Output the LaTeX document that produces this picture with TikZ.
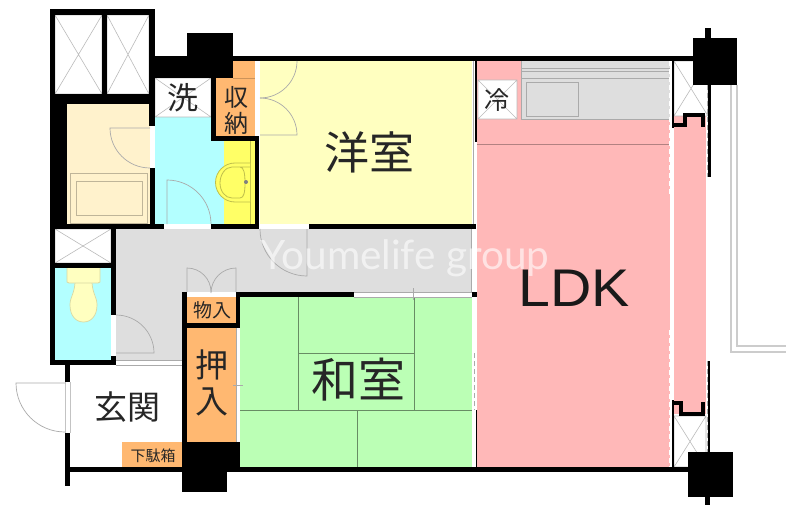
\documentclass[tikz,border=0pt]{standalone}
\usepackage{fontspec}
\setmainfont{Liberation Sans}
\newfontfamily\cjk{Noto Sans CJK JP}
\newfontfamily\wm{Lato}
\definecolor{wallk}{HTML}{000000}
\definecolor{cyanroom}{HTML}{B3FFFF}
\definecolor{yelroom}{HTML}{FFFFC0}
\definecolor{yelwash}{HTML}{FFFF66}
\definecolor{orangeroom}{HTML}{FFB871}
\definecolor{beigeroom}{HTML}{FFF2CC}
\definecolor{greyroom}{HTML}{DEDEDE}
\definecolor{greenroom}{HTML}{BBFFB5}
\definecolor{pinkroom}{HTML}{FFB8B8}
\definecolor{thin}{HTML}{AAAAAA}
\tikzset{
  thinline/.style={draw=thin,line width=0.7pt},
  crossline/.style={draw=thin!80,line width=0.6pt},
  tatami/.style={draw=black!45!greenroom,line width=0.8pt},
  jtext/.style={inner sep=0pt,text=black!85},
  crank/.style={draw=black,line width=3.5pt,line join=miter},
  whitedash/.style={draw=white,line width=1.2pt,dash pattern=on 5pt off 3pt},
  greydash/.style={draw=thin,line width=0.8pt,dash pattern=on 5pt off 3pt},
  balc/.style={draw=black!20,line width=1.6pt},
  fixture/.style={draw=black!25!yelwash,line width=0.8pt,fill=yelwash},
  pot/.style={draw=black!15!yelroom,line width=0.7pt,fill=yelroom},
}
\newcommand{\xbox}[4]{\fill[white] (#1,#2) rectangle (#3,#4);
  \draw[crossline] (#1,#2) rectangle (#3,#4) (#1,#2) -- (#3,#4) (#1,#4) -- (#3,#2);}
\begin{document}
\begin{tikzpicture}[x=1pt,y=-1pt]
\useasboundingbox (0,0) rectangle (786,505);
\fill[white] (0,0) rectangle (786,505);
% balcony
\draw[balc] (731,85) -- (731,352) -- (786,352);
\draw[balc] (737,85) -- (737,346) -- (786,346);
% rooms
\fill[beigeroom] (67,104) rectangle (150,224);
\fill[cyanroom] (155,117) rectangle (224,224);
\fill[yelwash] (224,141) rectangle (255,224);
\fill[orangeroom] (216,78) rectangle (255,136);
\fill[orangeroom] (233,61) rectangle (255,78);
\draw[draw=black!20!orangeroom,line width=0.6pt] (233,78) -- (255,78);
\fill[yelroom] (260,61) rectangle (472,224);
\fill[pinkroom] (477,61) rectangle (670,467);
\fill[pinkroom] (674,115) rectangle (706,414);
\fill[greyroom] (116,229) rectangle (472,292);
\fill[greyroom] (116,292) rectangle (182,360);
\fill[cyanroom] (55,268) rectangle (111,360);
\fill[orangeroom] (187,297) rectangle (236,323);
\fill[orangeroom] (187,328) rectangle (236,442);
\fill[orangeroom] (122,442) rectangle (182,467);
\fill[greenroom] (240,297) rectangle (472,467);
% tatami
\draw[tatami] (298,297) -- (298,410) (414,297) -- (414,410) (298,353) -- (414,353) (240,410) -- (472,410) (357,410) -- (357,467);
% thin edges
\draw[thinline] (473,61) -- (473,224) (471.5,229) -- (471.5,292) (116,360) -- (182,360) (116,365) -- (182,365) (354,292) -- (472,292) (354,297) -- (472,297);
\draw[thinline] (413,288) -- (413,300) (233,385) -- (243,385) (236.5,328) -- (236.5,442);
\draw[thinline,draw=thin!70] (65,382) -- (65,433) (70,382) -- (70,433);
\draw[greydash] (474,353) -- (474,410);
% kitchen
\fill[greyroom] (521,61) rectangle (670,119);
\draw[thinline] (521,61) -- (521,119) -- (670,119) (521,68) -- (670,68) (521,71) -- (670,71) (521,78) -- (670,78);
\draw[thinline] (526,82) rectangle (578,116);
\draw[draw=black!30!pinkroom,line width=0.9pt] (477,144) -- (670,144);
\draw[whitedash] (670,61) -- (670,195);
\draw[whitedash] (670,330) -- (670,467);
% x boxes
\xbox{55}{15}{102}{94}
\xbox{107}{15}{149}{94}
\xbox{155}{78}{211}{117}
\xbox{55}{229}{111}{263}
\xbox{478}{80}{517}{119}
\xbox{674}{61}{708}{116}
\xbox{674}{416}{706}{467}
\draw[greydash] (707,85) -- (707,177) (707,361) -- (707,452);
% walls
\fill[wallk] (50,9) rectangle (155,15);
\fill[wallk] (50,9) rectangle (55,104);
\fill[wallk] (102,15) rectangle (107,94);
\fill[wallk] (149,9) rectangle (155,126);
\fill[wallk] (50,94) rectangle (155,104);
\fill[wallk] (50,94) rectangle (67,229);
\fill[wallk] (150,168) rectangle (155,229);
\fill[wallk] (50,224) rectangle (164,229);
\fill[wallk] (211,224) rectangle (259,229);
\fill[wallk] (155,56) rectangle (233,78);
\fill[wallk] (187,33) rectangle (233,56);
\fill[wallk] (233,56) rectangle (693,61);
\fill[wallk] (211,78) rectangle (216,141);
\fill[wallk] (211,136) rectangle (259,141);
\fill[wallk] (255,136) rectangle (259,229);
\fill[wallk] (309,224) rectangle (476,229);
\fill[wallk] (50,229) rectangle (55,365);
\fill[wallk] (111,229) rectangle (116,315);
\fill[wallk] (50,263) rectangle (116,268);
\fill[wallk] (111,356) rectangle (116,365);
\fill[wallk] (50,360) rectangle (116,365);
\fill[wallk] (65,365) rectangle (70,382);
\fill[wallk] (65,433) rectangle (70,486);
\fill[wallk] (65,467) rectangle (182,472);
\fill[wallk] (182,292) rectangle (187,492);
\fill[wallk] (182,472) rectangle (227,492);
\fill[wallk] (187,442) rectangle (240,472);
\fill[wallk] (236,292) rectangle (354,297);
\fill[wallk] (236,292) rectangle (240,328);
\fill[wallk] (187,323) rectangle (240,328);
\fill[wallk] (472,292) rectangle (477,297);
\fill[wallk] (240,467) rectangle (688,472);
\fill[wallk] (475.5,410) rectangle (477,467);
\fill[wallk] (475,61) rectangle (477,142);
\fill[wallk] (672,61) rectangle (674,128);
\fill[wallk] (672,400) rectangle (674,467);
\fill[wallk] (693,38) rectangle (737,85);
\fill[wallk] (705,28) rectangle (711,38);
\fill[wallk] (708,85) rectangle (711,177);
\fill[wallk] (688,452) rectangle (733,497);
\fill[wallk] (705,497) rectangle (710,505);
\fill[wallk] (708,361) rectangle (710,452);
\draw[crank] (673,125) -- (685,125) -- (685,115) -- (703,115) -- (703,127);
\draw[crank] (673,403) -- (681,403) -- (681,414) -- (703,414) -- (703,402);
% doors (y axis points down, so angles run clockwise)
\draw[thinline] (150,128) -- (110,128) arc[start angle=180,end angle=90,radius=40];
\draw[thinline] (167,224) -- (167,180) arc[start angle=-90,end angle=0,radius=44];
\draw[thinline] (307,229) -- (307,276) arc[start angle=90,end angle=180,radius=47];
\draw[thinline] (187,292) -- (187,268) arc[start angle=-90,end angle=0,radius=24];
\draw[thinline] (236,292) -- (236,268) arc[start angle=-90,end angle=-180,radius=25];
\draw[thinline] (116,353) -- (154,353) arc[start angle=0,end angle=-90,radius=38];
\draw[thinline] (65,383) -- (16,383) arc[start angle=180,end angle=90,radius=49];
\draw[thinline] (297,61) arc[start angle=0,end angle=90,radius=37];
\draw[thinline] (260,98) arc[start angle=-90,end angle=0,radius=37] -- (260,135);
% bath
\draw[thinline,draw=black!25!beigeroom] (70,173) rectangle (147,223);
\draw[thinline,draw=black!25!beigeroom] (76,181) rectangle (142,215);
% toilet
\draw[pot] (75,283) .. controls (74,295) and (70,297) .. (70,305) .. controls (70,316) and (76,322) .. (83.5,322) .. controls (91,322) and (97,316) .. (97,305) .. controls (97,297) and (93,295) .. (92,283);
\draw[pot] (67,268) -- (67,282) -- (69,283) -- (98,283) -- (100,282) -- (100,268);
% basin
\draw[draw=black!25!yelwash,line width=0.6pt] (250,141) -- (250,224);
\draw[fixture] (250,163) -- (235,163) arc[start angle=-90,end angle=-270,radius=19.5] -- (250,202);
\draw[fixture] (250,167) -- (232,167) .. controls (225,167) and (220,175) .. (220,183) .. controls (220,191) and (225,198) .. (232,198) -- (240,198) .. controls (244,198) and (245,192) .. (245,183) .. controls (245,174) and (244,167) .. (240,167);
\fill[black!50] (246,182) circle[radius=2];
% room labels
\node[jtext,font=\cjk\fontsize{33}{33}\selectfont] (entry) at (127,407) {玄関};
\node[jtext,font=\cjk\fontsize{15}{15}\selectfont] (shoe) at (153,456) {下駄箱};
\node[jtext,font=\cjk\fontsize{19}{19}\selectfont] (mono) at (212,310) {物入};
\node[jtext,font=\cjk\fontsize{33}{36}\selectfont,align=center] (oshi) at (212,383) {押\\入};
\node[jtext,font=\cjk\fontsize{24}{26}\selectfont,align=center] (shu) at (236,110) {収\\納};
\node[jtext,font=\cjk\fontsize{31}{31}\selectfont] (sen) at (183,98) {洗};
\node[jtext,font=\cjk\fontsize{25}{25}\selectfont] (rei) at (497,100) {冷};
\node[jtext,font=\cjk\fontsize{45}{45}\selectfont] (yo) at (369,152) {洋室};
\node[jtext,font=\cjk\fontsize{47}{47}\selectfont] (wa) at (358,380) {和室};
\node[inner sep=0pt,font=\fontsize{53}{53}\selectfont,text=black!90,xscale=1.08] (ldk) at (574,288) {LDK};
\node[inner sep=0pt,font=\wm\fontsize{40.5}{40.5}\selectfont,text=white,opacity=0.6] (mark) at (405,258) {Youmelife group};
\end{tikzpicture}
\end{document}
